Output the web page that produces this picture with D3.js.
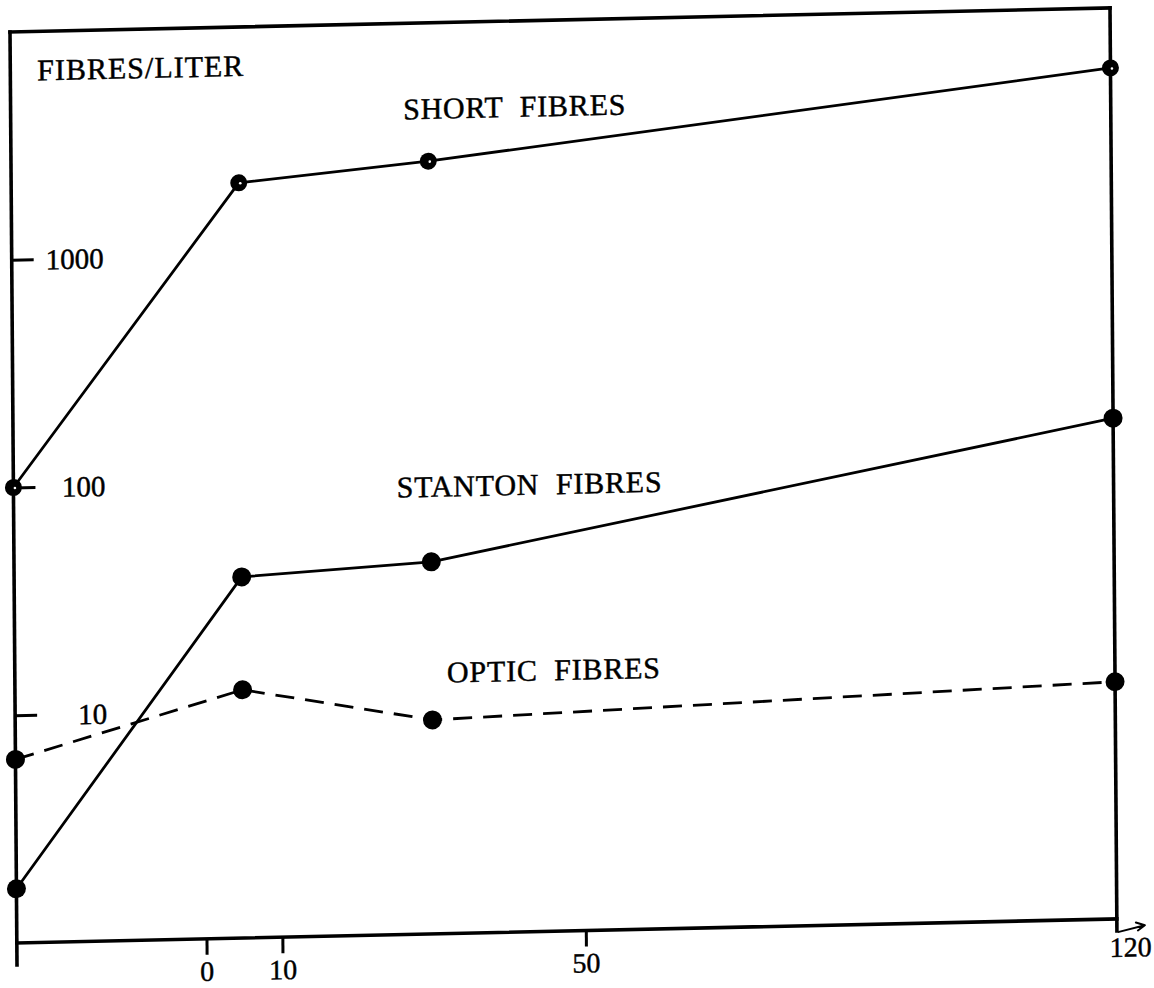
<!DOCTYPE html>
<html>
<head>
<meta charset="utf-8">
<script src="https://cdn.jsdelivr.net/npm/d3@7"></script>
<style>
  html, body { margin: 0; padding: 0; background: #fff; }
  svg { display: block; }
  text { font-family: "Liberation Serif", "DejaVu Serif", serif; fill: #000; stroke: #000; stroke-width: 0.45px; }
</style>
</head>
<body>
<svg id="chart" width="1154" height="988"></svg>
<script>
// Sampling times (x) and fibre counts per liter for each fibre type
const times = [-25, 5, 30, 120];
const shortFibres = [100, 2070, 2470, 5450];
const stantonFibres = [1.73, 38.5, 43, 158];
const opticFibres = [6.4, 12.3, 8.7, 11.0];

const xTickValues = [0, 10, 50, 120];
const yTickValues = [10, 100, 1000];
const yTitle = "FIBRES/LITER";
const seriesLabels = ["SHORT  FIBRES", "STANTON  FIBRES", "OPTIC  FIBRES"];

const W = 1100, H = 911;
const svg = d3.select("#chart");

// The plate is printed slightly skewed; the whole plot lives in this frame
const g = svg.append("g")
  .attr("transform", "matrix(1,-0.02188,0.0075,1,10,32)");

const x = d3.scaleLinear().domain([-25, 120]).range([0, W]);
const y = d3.scaleLog().domain([1, 10000]).range([H, 0]);

// Frame: top, right, bottom lines and the left axis running a little below
const frame = g.append("g").attr("stroke", "#000").attr("stroke-width", 3.6)
  .attr("fill", "none").attr("stroke-linecap", "square");
frame.append("line").attr("x1", x(-25)).attr("y1", 0).attr("x2", x(120)).attr("y2", 0);
frame.append("line").attr("x1", x(-25)).attr("y1", 0).attr("x2", x(-25)).attr("y2", H + 22);
frame.append("line").attr("x1", x(-25)).attr("y1", H).attr("x2", x(120)).attr("y2", H);
frame.append("line").attr("x1", x(120)).attr("y1", 0).attr("x2", x(120)).attr("y2", H + 12);
// small pointer at the end of the time axis
frame.append("path").attr("stroke-width", 2).attr("stroke-linecap", "round")
  .attr("d", `M${x(120) + 2},${H + 13} L${x(120) + 28},${H + 7} M${x(120) + 28},${H + 7} L${x(120) + 19},${H + 4} M${x(120) + 28},${H + 7} L${x(120) + 21},${H + 12}`);

// Time axis ticks
const xAxis = g.append("g").attr("transform", `translate(0,${H})`)
  .call(d3.axisBottom(x).tickValues(xTickValues).tickSize(16).tickFormat(d3.format("d")));
xAxis.select(".domain").remove();
xAxis.selectAll(".tick line").attr("stroke", "#000").attr("stroke-width", 3);
xAxis.selectAll(".tick text")
  .attr("y", 42).attr("dy", 0)
  .attr("font-size", 28).attr("font-family", "Liberation Serif, serif")
  .attr("fill", "#000");
xAxis.selectAll(".tick").filter(d => d === 120).select("line").remove();
xAxis.selectAll(".tick").filter(d => d === 120).select("text")
  .attr("text-anchor", "end").attr("x", 34).attr("y", 38);

// Log axis ticks drawn inward with labels inside the frame
const yAxis = g.append("g")
  .call(d3.axisLeft(y).tickValues(yTickValues).tickSize(-22).tickFormat(d3.format("d")));
yAxis.select(".domain").remove();
yAxis.selectAll(".tick line").attr("stroke", "#000").attr("stroke-width", 2.8);
yAxis.selectAll(".tick text")
  .attr("x", 92).attr("dy", "0.34em").attr("text-anchor", "end")
  .attr("font-size", 29).attr("font-family", "Liberation Serif, serif")
  .attr("fill", "#000");

g.append("text").attr("x", 27).attr("y", 49)
  .attr("font-size", 30).attr("letter-spacing", 1)
  .text(yTitle);

const line = d3.line().x(d => x(d[0])).y(d => y(d[1]));
const series = [
  { values: shortFibres, dash: null, label: seriesLabels[0], lx: 504, ly: 96, r: 8.5, hole: true },
  { values: stantonFibres, dash: null, label: seriesLabels[1], lx: 516, ly: 474, r: 9.5, hole: false },
  { values: opticFibres, dash: "19,11", label: seriesLabels[2], lx: 539, ly: 660, r: 9.5, hole: false }
];

series.forEach(s => {
  const pts = times.map((t, i) => [t, s.values[i]]);
  g.append("path").datum(pts)
    .attr("d", line)
    .attr("fill", "none").attr("stroke", "#000").attr("stroke-width", 2.8)
    .attr("stroke-dasharray", s.dash);
  g.selectAll(null).data(pts).enter().append("circle")
    .attr("cx", d => x(d[0])).attr("cy", d => y(d[1]))
    .attr("r", s.r).attr("fill", "#000");
  if (s.hole) {
    g.selectAll(null).data(pts).enter().append("circle")
      .attr("cx", d => x(d[0]) + 1.5).attr("cy", d => y(d[1]) + 0.5)
      .attr("r", 1.3).attr("fill", "#fff");
  }
  g.append("text").attr("x", s.lx).attr("y", s.ly)
    .attr("text-anchor", "middle")
    .attr("font-size", 30).attr("letter-spacing", 0.8)
    .style("white-space", "pre")
    .text(s.label);
});
</script>
</body>
</html>
